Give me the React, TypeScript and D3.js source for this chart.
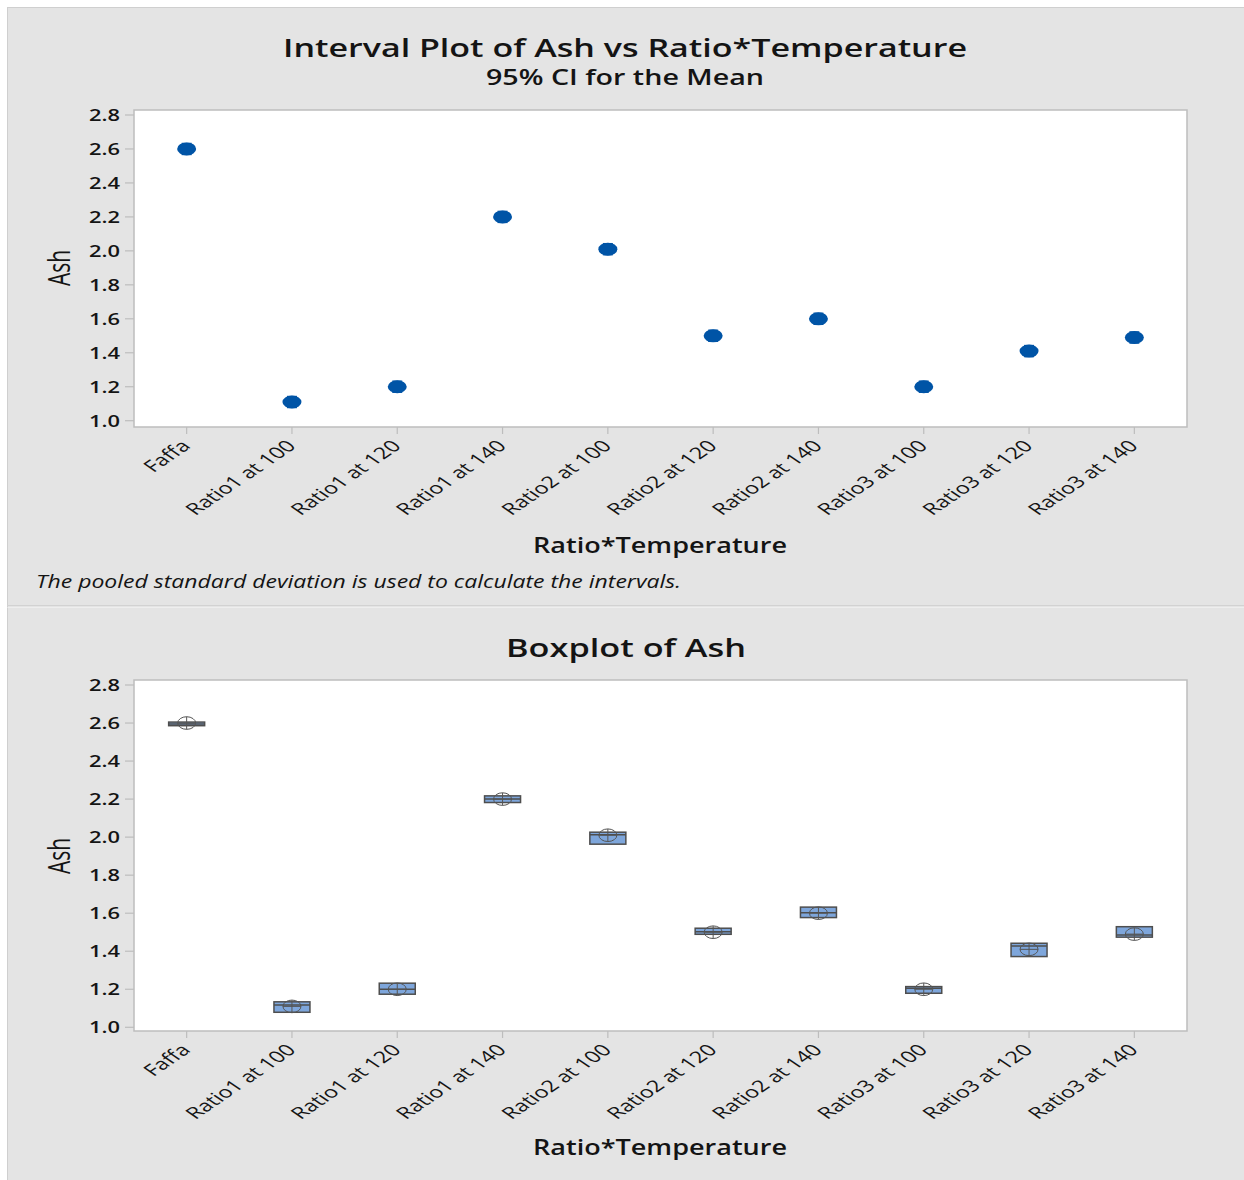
import React from 'react';
import * as d3 from 'd3';

// Groups on the x axis (Ratio*Temperature)
const categories = [
  'Faffa',
  'Ratio1 at 100',
  'Ratio1 at 120',
  'Ratio1 at 140',
  'Ratio2 at 100',
  'Ratio2 at 120',
  'Ratio2 at 140',
  'Ratio3 at 100',
  'Ratio3 at 120',
  'Ratio3 at 140',
];

// Group means of Ash
const means = [2.6, 1.11, 1.2, 2.2, 2.01, 1.5, 1.6, 1.2, 1.41, 1.49];

// 95% confidence interval for each mean (pooled standard deviation)
const ciLower = [2.567, 1.077, 1.167, 2.167, 1.977, 1.467, 1.567, 1.167, 1.377, 1.457];
const ciUpper = [2.633, 1.143, 1.233, 2.233, 2.043, 1.533, 1.633, 1.233, 1.443, 1.523];

// Boxplot quartiles
const boxQ1 = [2.586, 1.079, 1.174, 2.182, 1.963, 1.489, 1.577, 1.179, 1.372, 1.474];
const boxMedian = [2.595, 1.117, 1.2, 2.2, 2.012, 1.503, 1.603, 1.205, 1.428, 1.486];
const boxQ3 = [2.605, 1.134, 1.232, 2.217, 2.026, 1.521, 1.632, 1.214, 1.442, 1.529];

const yTicks = [1.0, 1.2, 1.4, 1.6, 1.8, 2.0, 2.2, 2.4, 2.6, 2.8];

const W = 1244;
const H = 1180;
const FONT = "'Open Sans', 'Noto Sans', 'DejaVu Sans', sans-serif";
const BG = '#e4e4e4';
const FRAME = '#bdbdbd';
const INK = '#141414';
const DOT = '#0054a6';
const BOX_FILL = '#7ea6db';
const BOX_STROKE = '#4e4e4e';
const STRETCH = 1.47;

const plotLeft = 134;
const plotRight = 1187;

const x = d3.scalePoint<string>().domain(categories).range([plotLeft, plotRight]).padding(0.5);

type PanelProps = {
  top: number;
  bottom: number;
  labelY: number;
  y: d3.ScaleLinear<number, number>;
  children?: React.ReactNode;
};

function Frame({ top, bottom, labelY, y, children }: PanelProps) {
  return (
    <g>
      <rect x={plotLeft} y={top} width={plotRight - plotLeft} height={bottom - top} fill="#ffffff" stroke={FRAME} strokeWidth={1.5} />
      {yTicks.map((t) => (
        <g key={t}>
          <line x1={125} x2={plotLeft} y1={y(t)} y2={y(t)} stroke={FRAME} strokeWidth={1.2} />
          <text
            x={120}
            y={y(t) + 6}
            textAnchor="end"
            fontSize={16}
            fontWeight={600}
            fill={INK}
            textLength={31}
            lengthAdjust="spacingAndGlyphs"
          >
            {d3.format('.1f')(t)}
          </text>
        </g>
      ))}
      {categories.map((c) => (
        <g key={c}>
          <line x1={x(c)} x2={x(c)} y1={bottom} y2={bottom + 7} stroke={FRAME} strokeWidth={1.2} />
          <text
            transform={`translate(${(x(c) as number) + 5},${bottom + 20}) scale(${STRETCH},1) rotate(-45)`}
            textAnchor="end"
            fontSize={16}
            fontWeight={500}
            fill={INK}
          >
            {c}
          </text>
        </g>
      ))}
      <text
        transform={`translate(70,${labelY}) scale(${STRETCH},1) rotate(-90)`}
        textAnchor="middle"
        fontSize={21}
        fontWeight={500}
        fill={INK}
      >
        Ash
      </text>
      {children}
    </g>
  );
}

export default function App() {
  // interval plot panel
  const yTop = d3.scaleLinear().domain([1.0, 2.8]).range([420.7, 115]);
  // boxplot panel
  const yBot = d3.scaleLinear().domain([1.0, 2.8]).range([1027.3, 685]);

  const boxW = 36;
  const capW = 10;

  return (
    <svg
      width={W}
      height={H}
      viewBox={`0 0 ${W} ${H}`}
      style={{ position: 'absolute', left: 0, top: 0, fontFamily: FONT }}
    >
      <rect x={0} y={0} width={W} height={H} fill="#ffffff" />
      <rect x={7.5} y={7.5} width={W} height={H} fill={BG} stroke="#cfcfcf" strokeWidth={1} />
      <line x1={7.5} x2={W} y1={605.5} y2={605.5} stroke="#d2d2d2" strokeWidth={1} />
      <line x1={7.5} x2={W} y1={607.5} y2={607.5} stroke="#eeeeee" strokeWidth={1} />

      {/* Interval plot */}
      <text x={625} y={57} textAnchor="middle" fontSize={26} fontWeight={600} fill={INK} textLength={684} lengthAdjust="spacingAndGlyphs">
        Interval Plot of Ash vs Ratio*Temperature
      </text>
      <text x={625} y={85} textAnchor="middle" fontSize={21} fontWeight={600} fill={INK} textLength={278} lengthAdjust="spacingAndGlyphs">
        95% CI for the Mean
      </text>
      <Frame top={110} bottom={427} labelY={268} y={yTop}>
        {categories.map((c, i) => {
          const cx = x(c) as number;
          return (
            <g key={c}>
              <line x1={cx} x2={cx} y1={yTop(ciLower[i])} y2={yTop(ciUpper[i])} stroke={DOT} strokeWidth={1.2} />
              <line x1={cx - capW / 2} x2={cx + capW / 2} y1={yTop(ciLower[i])} y2={yTop(ciLower[i])} stroke={DOT} strokeWidth={1.2} />
              <line x1={cx - capW / 2} x2={cx + capW / 2} y1={yTop(ciUpper[i])} y2={yTop(ciUpper[i])} stroke={DOT} strokeWidth={1.2} />
              <ellipse cx={cx} cy={yTop(means[i])} rx={9.5} ry={6.5} fill={DOT} />
            </g>
          );
        })}
      </Frame>
      <text x={660} y={553} textAnchor="middle" fontSize={22} fontWeight={600} fill={INK} textLength={254} lengthAdjust="spacingAndGlyphs">
        Ratio*Temperature
      </text>
      <text x={36} y={588} fontSize={18} fontStyle="italic" fill={INK} textLength={645} lengthAdjust="spacingAndGlyphs">
        The pooled standard deviation is used to calculate the intervals.
      </text>

      {/* Boxplot */}
      <text x={626} y={657} textAnchor="middle" fontSize={26} fontWeight={600} fill={INK} textLength={240} lengthAdjust="spacingAndGlyphs">
        Boxplot of Ash
      </text>
      <Frame top={680} bottom={1031} labelY={856} y={yBot}>
        {categories.map((c, i) => {
          const cx = x(c) as number;
          const yq3 = yBot(boxQ3[i]);
          const yq1 = yBot(boxQ1[i]);
          const ym = yBot(means[i]);
          return (
            <g key={c}>
              <rect x={cx - boxW / 2} y={yq3} width={boxW} height={Math.max(yq1 - yq3, 1)} fill={BOX_FILL} stroke={BOX_STROKE} strokeWidth={1.5} />
              <line x1={cx - boxW / 2} x2={cx + boxW / 2} y1={yBot(boxMedian[i])} y2={yBot(boxMedian[i])} stroke={BOX_STROKE} strokeWidth={1.5} />
              <ellipse cx={cx} cy={ym} rx={9} ry={6.3} fill="none" stroke="#555555" strokeWidth={1} />
              <line x1={cx - 9} x2={cx + 9} y1={ym} y2={ym} stroke="#555555" strokeWidth={1} />
              <line x1={cx} x2={cx} y1={ym - 6.3} y2={ym + 6.3} stroke="#555555" strokeWidth={1} />
            </g>
          );
        })}
      </Frame>
      <text x={660} y={1155} textAnchor="middle" fontSize={22} fontWeight={600} fill={INK} textLength={254} lengthAdjust="spacingAndGlyphs">
        Ratio*Temperature
      </text>
    </svg>
  );
}
